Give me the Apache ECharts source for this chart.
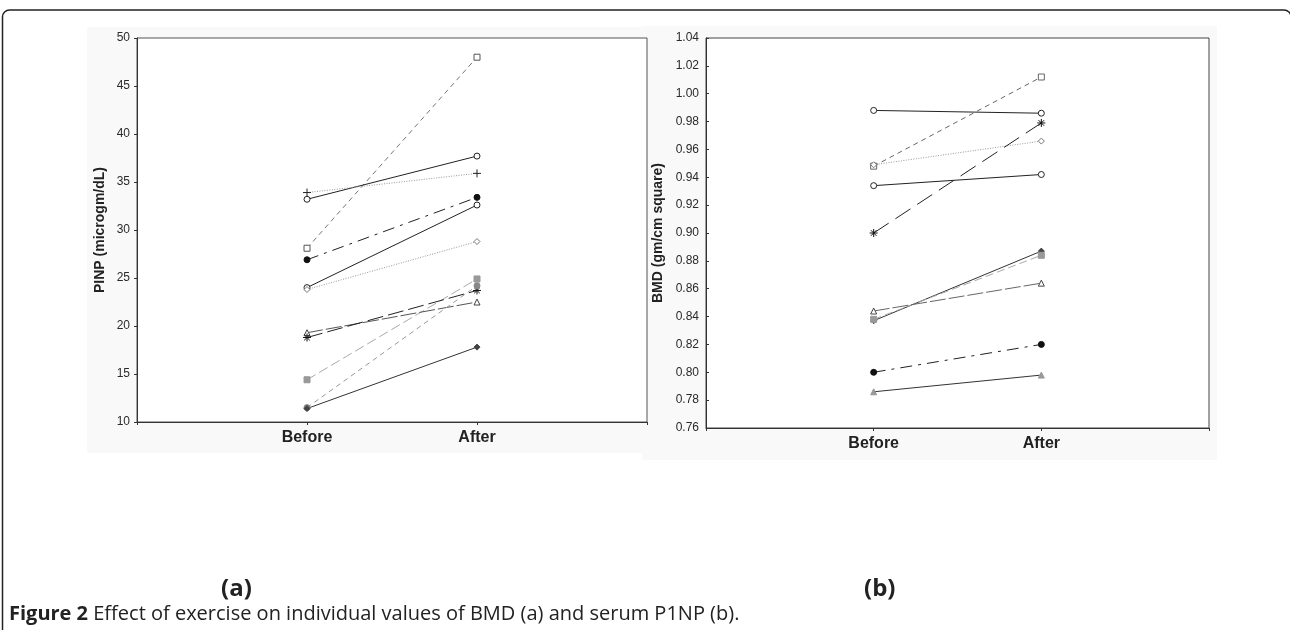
<!DOCTYPE html>
<html>
<head>
<meta charset="utf-8">
<script src="https://cdn.jsdelivr.net/npm/echarts@6/dist/echarts.min.js"></script>
<style>
html,body{margin:0;padding:0;background:#fff;}
#main{width:1290px;height:630px;}
</style>
</head>
<body>
<div id="main"></div>
<script>
// ---- data ----
const categories = ['', 'Before', 'After', ''];
const pinpYTicks = [10, 15, 20, 25, 30, 35, 40, 45, 50];
const bmdYTicks = [0.76, 0.78, 0.80, 0.82, 0.84, 0.86, 0.88, 0.90, 0.92, 0.94, 0.96, 0.98, 1.00, 1.02, 1.04];

const pinpBefore = [28.1, 33.2, 33.9, 26.9, 24.0, 23.8, 14.4, 19.3, 18.8, 11.5, 11.4];
const pinpAfter  = [48.0, 37.7, 35.9, 33.4, 32.6, 28.8, 24.9, 22.5, 23.7, 24.2, 17.8];

const bmdBefore = [0.988, 0.948, 0.949, 0.934, 0.900, 0.837, 0.838, 0.844, 0.800, 0.786];
const bmdAfter  = [0.986, 1.012, 0.966, 0.942, 0.979, 0.887, 0.884, 0.864, 0.820, 0.798];

// ---- styles ----
const PLUS = 'path://M5,0V10M0,5H10';
const STAR = 'path://M5,0V10M0,5H10M1.5,1.5L8.5,8.5M8.5,1.5L1.5,8.5';
const pinpStyles = [
  {sym:'rect', fill:'#fff', border:'#555', line:'#777', dash:[5,4]},
  {sym:'circle', fill:'#fff', border:'#222', line:'#222', dash:'solid'},
  {sym:PLUS, fill:'none', border:'#222', line:'#999', dash:[1,1.5], size:8},
  {sym:'circle', fill:'#111', border:'#111', line:'#222', dash:[12,6,3,6]},
  {sym:'circle', fill:'#fff', border:'#222', line:'#222', dash:'solid'},
  {sym:'diamond', fill:'#fff', border:'#777', line:'#999', dash:[1,1.5]},
  {sym:'rect', fill:'#999', border:'#999', line:'#aaa', dash:[10,4]},
  {sym:'triangle', fill:'#fff', border:'#444', line:'#555', dash:[16,3]},
  {sym:STAR, fill:'none', border:'#111', line:'#222', dash:[16,5], size:8},
  {sym:'circle', fill:'#888', border:'#888', line:'#999', dash:[5,4]},
  {sym:'diamond', fill:'#444', border:'#444', line:'#333', dash:'solid'}
];
const bmdStyles = [
  {sym:'circle', fill:'#fff', border:'#222', line:'#222', dash:'solid'},
  {sym:'rect', fill:'#fff', border:'#666', line:'#666', dash:[5,4]},
  {sym:'diamond', fill:'#fff', border:'#777', line:'#999', dash:[1,1.5]},
  {sym:'circle', fill:'#fff', border:'#222', line:'#222', dash:'solid'},
  {sym:STAR, fill:'none', border:'#111', line:'#222', dash:[18,8], size:8},
  {sym:'diamond', fill:'#444', border:'#444', line:'#333', dash:'solid'},
  {sym:'rect', fill:'#999', border:'#999', line:'#aaa', dash:[8,4]},
  {sym:'triangle', fill:'#fff', border:'#444', line:'#666', dash:[16,3]},
  {sym:'circle', fill:'#111', border:'#111', line:'#222', dash:[12,6,3,6]},
  {sym:'triangle', fill:'#999', border:'#999', line:'#333', dash:'solid'}
];

function makeSeries(before, after, styles, idx) {
  return before.map((b, i) => {
    const st = styles[i];
    return {
      type: 'line',
      xAxisIndex: idx, yAxisIndex: idx,
      data: [['Before', b], ['After', after[i]]],
      symbol: st.sym,
      symbolSize: st.size || 6,
      showSymbol: true,
      animation: false,
      lineStyle: {color: st.line, width: 1, type: st.dash},
      itemStyle: {color: st.fill, borderColor: st.border, borderWidth: 1},
      emphasis: {disabled: true},
      z: 3
    };
  });
}

const labelFont = {fontFamily: 'Liberation Sans, Arial, sans-serif', fontSize: 12, color: '#2a2a2a'};
function xAxisCfg(idx) {
  return {
    type: 'category', gridIndex: idx, data: categories, boundaryGap: false,
    axisLine: {show: true, lineStyle: {color: '#333', width: 1}},
    axisTick: {show: true, length: 3, lineStyle: {color: '#333'}},
    axisLabel: {fontFamily: 'Liberation Sans, Arial, sans-serif', fontSize: 16, fontWeight: 'bold', color: '#222', margin: 8, interval: 0},
    splitLine: {show: false}
  };
}

const chart = echarts.init(document.getElementById('main'), null, {renderer: 'canvas'});
chart.setOption({
  backgroundColor: '#fff',
  animation: false,
  grid: [
    {left: 137, top: 38, width: 510, height: 384, show: true, borderColor: '#555', borderWidth: 1, backgroundColor: '#fff'},
    {left: 706, top: 38, width: 503, height: 390, show: true, borderColor: '#444', borderWidth: 1, backgroundColor: '#fff'}
  ],
  xAxis: [xAxisCfg(0), xAxisCfg(1)],
  yAxis: [
    {
      type: 'value', gridIndex: 0,
      min: pinpYTicks[0], max: pinpYTicks[pinpYTicks.length - 1], interval: pinpYTicks[1] - pinpYTicks[0],
      name: 'PINP (microgm/dL)', nameLocation: 'middle', nameGap: 30,
      nameTextStyle: {fontFamily: 'Liberation Sans, Arial, sans-serif', fontSize: 14, fontWeight: 'bold', color: '#222'},
      axisLine: {show: true, lineStyle: {color: '#333'}},
      axisTick: {show: true, length: 3, lineStyle: {color: '#333'}},
      axisLabel: Object.assign({margin: 7}, labelFont),
      splitLine: {show: false}
    },
    {
      type: 'value', gridIndex: 1,
      min: bmdYTicks[0], max: bmdYTicks[bmdYTicks.length - 1], interval: 0.02,
      name: 'BMD (gm/cm square)', nameLocation: 'middle', nameGap: 41,
      nameTextStyle: {fontFamily: 'Liberation Sans, Arial, sans-serif', fontSize: 14, fontWeight: 'bold', color: '#222'},
      axisLine: {show: true, lineStyle: {color: '#333'}},
      axisTick: {show: true, inside: true, length: 3, lineStyle: {color: '#333'}},
      axisLabel: Object.assign({margin: 7, formatter: v => v.toFixed(2)}, labelFont),
      splitLine: {show: false}
    }
  ],
  series: makeSeries(pinpBefore, pinpAfter, pinpStyles, 0).concat(makeSeries(bmdBefore, bmdAfter, bmdStyles, 1)),
  graphic: [
    {type: 'rect', z: -10, shape: {x: 87, y: 27, width: 555, height: 426}, style: {fill: '#f9f9f9'}},
    {type: 'rect', z: -10, shape: {x: 642, y: 26, width: 575, height: 434}, style: {fill: '#f9f9f9'}},
    {type: 'rect', z: 10, shape: {x: 2.5, y: 10, width: 1288.5, height: 640, r: 7}, style: {fill: 'none', stroke: '#222', lineWidth: 1.5}},
    {type: 'text', z: 10, left: 221, top: 577, style: {text: '(a)', font: 'bold 24px "Open Sans", sans-serif', fill: '#222'}},
    {type: 'text', z: 10, left: 864, top: 577, style: {text: '(b)', font: 'bold 24px "Open Sans", sans-serif', fill: '#222'}},
    {type: 'text', z: 10, left: 9, top: 604, style: {
      text: '{b|Figure 2} Effect of exercise on individual values of BMD (a) and serum P1NP (b).',
      font: '20px "Open Sans", sans-serif', fill: '#222',
      rich: {b: {font: 'bold 20px "Open Sans", sans-serif', fill: '#222'}}
    }}
  ]
});
</script>
</body>
</html>
